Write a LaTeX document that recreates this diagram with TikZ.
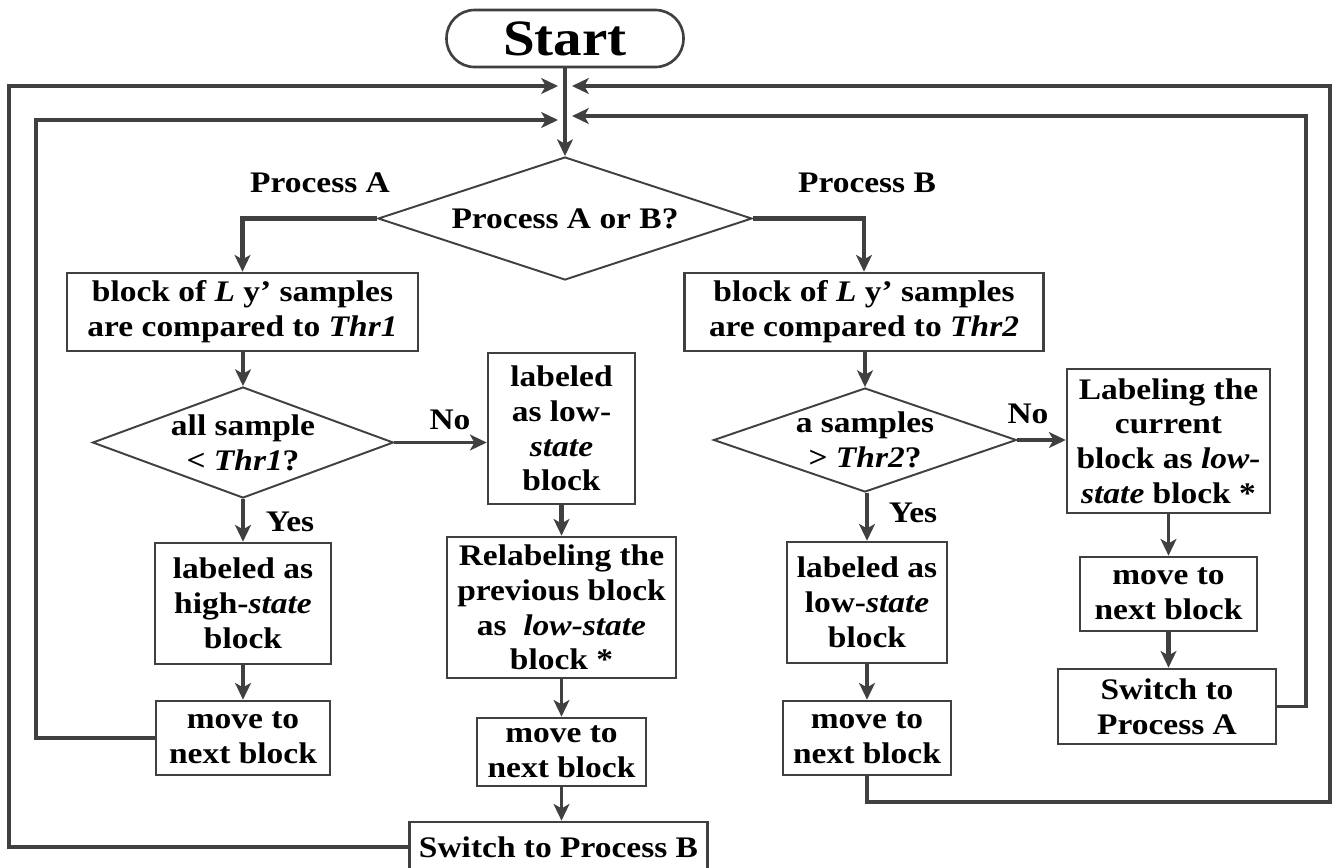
\documentclass[tikz,border=0pt]{standalone}
\usepackage{fontspec}
\setmainfont{Liberation Serif}[FakeStretch=1.12]
\usetikzlibrary{arrows.meta,shapes.geometric}
\definecolor{lc}{RGB}{64,64,64}
\begin{document}
\begin{tikzpicture}[x=0.02cm,y=-0.02cm,
  every node/.style={font=\fontsize{17pt}{19.8pt}\selectfont\bfseries, text=black},
  box/.style={draw=lc, line width=1.5pt, rectangle, inner sep=0pt, align=center},
  dia/.style={draw=lc, line width=1.1pt, diamond, inner sep=-5pt, align=center},
  tip/.style={-{Stealth[length=9.5pt,width=9pt,inset=2.5pt]}},
  arr/.style={draw=lc, line width=1.9pt, tip},
  tarr/.style={draw=lc, line width=2.8pt, tip},
  lbl/.style={inner sep=0pt}
]
\useasboundingbox (0,0) rectangle (1334,867);
\fill[white] (0,0) rectangle (1334,867);

% nodes
\node[box, rounded corners=0.56cm, minimum width=4.74cm, minimum height=1.14cm,
      font=\fontsize{29pt}{32pt}\selectfont\bfseries] (start) at (565,38.5) {Start};
\node[dia, aspect=3.04, minimum width=7.48cm, minimum height=2.46cm] (d1) at (565,218.5) {Process A or B?};
\node[lbl] (pa) at (320,183) {Process A};
\node[lbl] (pb) at (867,183) {Process B};

\node[box, minimum width=7.02cm, minimum height=1.56cm] (a1) at (242.5,312)
  {block of \textit{L} y’ samples\\are compared to \textit{Thr1}};
\node[box, minimum width=7.18cm, minimum height=1.56cm] (b1) at (864,312)
  {block of \textit{L} y’ samples\\are compared to \textit{Thr2}};

\node[dia, aspect=2.71, minimum width=6.02cm, minimum height=2.22cm] (a2) at (243,442.5)
  {all sample\\< \textit{Thr1}?};
\node[dia, aspect=2.91, minimum width=6.06cm, minimum height=2.08cm] (b2) at (865,440)
  {a samples\\> \textit{Thr2}?};

\node[box, minimum width=2.94cm, minimum height=3.02cm] (a3) at (561.5,428.5)
  {labeled\\as low-\\\textit{state}\\block};
\node[box, minimum width=4.58cm, minimum height=2.82cm] (a6) at (561.5,607.5)
  {Relabeling the\\previous block\\as~ \textit{low-state}\\block *};
\node[box, minimum width=3.38cm, minimum height=1.36cm] (a7) at (561.5,752)
  {move to\\next block};
\node[box, minimum width=5.96cm, minimum height=1.0cm] (swb) at (558.5,847)
  {Switch to Process B};

\node[box, minimum width=3.52cm, minimum height=2.42cm] (a4) at (243,603.5)
  {labeled as\\high-\textit{state}\\block};
\node[box, minimum width=3.48cm, minimum height=1.48cm] (a5) at (243,738)
  {move to\\next block};

\node[box, minimum width=4.06cm, minimum height=2.88cm] (b3) at (1168.5,441)
  {Labeling the\\current\\block as \textit{low-}\\\textit{state} block *};
\node[box, minimum width=3.20cm, minimum height=2.42cm] (b4) at (867,602.5)
  {labeled as\\low-\textit{state}\\block};
\node[box, minimum width=3.36cm, minimum height=1.48cm] (b5) at (867,738)
  {move to\\next block};
\node[box, minimum width=3.54cm, minimum height=1.48cm] (b6) at (1168.5,594)
  {move to\\next block};
\node[box, minimum width=4.36cm, minimum height=1.50cm] (b7) at (1167,706.5)
  {Switch to\\Process A};

% branch labels
\node[lbl] (noa) at (450,420) {No};
\node[lbl] (yesa) at (290,522) {Yes};
\node[lbl] (nob) at (1028,414) {No};
\node[lbl] (yesb) at (913,513) {Yes};

% loop coordinates
\coordinate (oL) at (9,86);
\coordinate (iL) at (36,120);
\coordinate (oR) at (1330,802);
\coordinate (iR) at (1306,116);
\coordinate (mL1) at (558,86);
\coordinate (mL2) at (558,120);
\coordinate (mR1) at (572,86);
\coordinate (mR2) at (572,116);

% connectors
\draw[arr, line width=2.2pt] (start.south) -- (d1.north);
\draw[draw=lc, line width=2.5pt, tip] (swb.west) -| (oL) -- (mL1);
\draw[draw=lc, line width=2.1pt, tip] (a5.west) -| (iL) -- (mL2);
\draw[draw=lc, line width=2.6pt, tip] (b5.south) |- (oR) -- (oR |- mR1) -- (mR1);
\draw[draw=lc, line width=1.9pt, tip] (b7.east) -| (iR) -- (mR2);

\draw[tarr] (d1.west) -| (a1.north);
\draw[tarr] (d1.east) -| (b1.north);

\draw[arr] (a2.north |- a1.south) -- (a2.north);
\draw[arr] (a2.east) -- (a2.east -| a3.west);
\draw[arr] (a2.south) -- (a4.north);
\draw[arr] (a4.south) -- (a5.north);
\draw[tarr] (a3.south) -- (a6.north);
\draw[arr] (a6.south) -- (a7.north);
\draw[arr] (a7.south) -- (a7.south |- swb.north);

\draw[arr] (b2.north |- b1.south) -- (b2.north);
\draw[tarr] (b2.east) -- (b2.east -| b3.west);
\draw[tarr] (b4.north |- b2.south) -- (b4.north);
\draw[arr] (b4.south) -- (b5.north);
\draw[arr] (b3.south) -- (b6.north);
\draw[tarr] (b6.south) -- (b6.south |- b7.north);
\end{tikzpicture}
\end{document}
